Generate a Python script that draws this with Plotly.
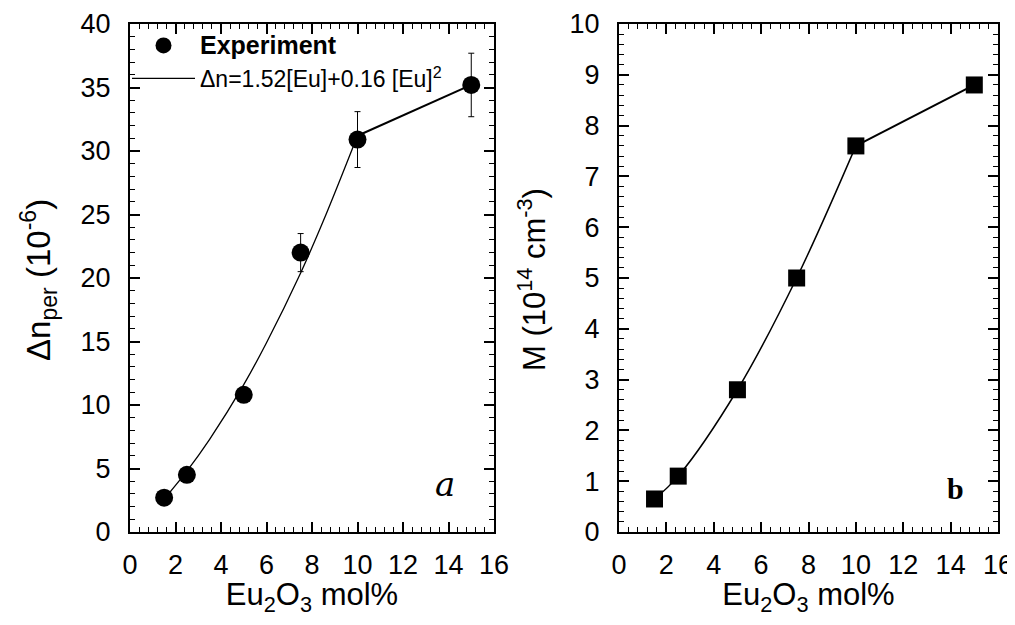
import plotly.graph_objects as go

# ---------------- data ----------------
eu_mol = [1.5, 2.5, 5.0, 7.5, 10.0, 15.0]

# panel a: experimental birefringence (1e-6) with error bars
dn_exp = [2.7, 4.5, 10.8, 22.0, 30.9, 35.2]
dn_err = [0.3, 0.4, 0.6, 1.5, 2.2, 2.5]

# panel a: fitted curve as drawn
fit_x = [1.5, 2.5, 3.5, 5.0, 6.0, 7.5, 8.5, 10.0]
fit_y = [2.6, 4.8, 7.3, 11.6, 14.9, 20.4, 24.5, 31.2]
seg_x = [10.0, 15.0]
seg_y = [31.2, 35.2]

# panel b: M (1e14 cm^-3)
m_vals = [0.65, 1.1, 2.8, 5.0, 7.6, 8.8]

x_ticks = [0, 2, 4, 6, 8, 10, 12, 14, 16]

FONT = "Liberation Sans"
BLACK = "black"

# page offset of the figure (body margin) and figure size
OFF = 8
W, H = 1015 - OFF, 625 - 2 * OFF


def fx(px):
    return (px - OFF) / W


def fy(py):
    return 1 - (py - OFF) / H


fig = go.Figure()

# ---- panel a ----
fig.add_trace(go.Scatter(
    x=eu_mol, y=dn_exp, mode="markers",
    name="<span style='font-size:25px'><b>Experiment</b></span>",
    marker=dict(symbol="circle", size=18, color=BLACK),
    error_y=dict(type="data", array=dn_err, color=BLACK, thickness=1, width=3),
    xaxis="x", yaxis="y", showlegend=True,
))
fig.add_trace(go.Scatter(
    x=fit_x, y=fit_y, mode="lines", name="Δn=1.52[Eu]+0.16 [Eu]<sup>2</sup>",
    line=dict(color=BLACK, width=1.3, shape="spline"),
    xaxis="x", yaxis="y", showlegend=True,
))
fig.add_trace(go.Scatter(
    x=seg_x, y=seg_y, mode="lines", line=dict(color=BLACK, width=2),
    xaxis="x", yaxis="y", showlegend=False,
))

# ---- panel b ----
fig.add_trace(go.Scatter(
    x=eu_mol[:5], y=m_vals[:5], mode="lines",
    line=dict(color=BLACK, width=1.5, shape="spline"),
    xaxis="x2", yaxis="y2", showlegend=False,
))
fig.add_trace(go.Scatter(
    x=eu_mol[4:], y=m_vals[4:], mode="lines",
    line=dict(color=BLACK, width=2),
    xaxis="x2", yaxis="y2", showlegend=False,
))
fig.add_trace(go.Scatter(
    x=eu_mol, y=m_vals, mode="markers",
    marker=dict(symbol="square", size=17, color=BLACK),
    xaxis="x2", yaxis="y2", showlegend=False,
))

tickfont = dict(family=FONT, size=27, color=BLACK)
common = dict(
    showline=True, linecolor=BLACK, linewidth=2, mirror="allticks",
    ticks="inside", ticklen=10, tickwidth=1.5, tickcolor=BLACK,
    showgrid=False, zeroline=False, tickfont=tickfont, automargin=False,
)
xcommon = dict(common, range=[0, 16], tickvals=x_ticks,
               minor=dict(dtick=0.4, ticks="inside", ticklen=5, tickwidth=1, tickcolor=BLACK),
               ticklabelstandoff=8,
               title=dict(text="Eu<sub>2</sub>O<sub>3</sub> mol%",
                          font=dict(family=FONT, size=31, color=BLACK), standoff=20))

ydom = [fy(532), fy(24)]
ann = dict(xref="paper", yref="paper", showarrow=False, xanchor="center", yanchor="middle")
fig.update_layout(
    width=W, height=H,
    margin=dict(l=0, r=0, t=0, b=0),
    paper_bgcolor="white", plot_bgcolor="white",
    font=dict(family=FONT, color=BLACK),
    xaxis=dict(xcommon, domain=[fx(130), fx(494)], anchor="y"),
    yaxis=dict(common, domain=ydom, range=[0, 40], dtick=5, anchor="x",
               minor=dict(dtick=1, ticks="inside", ticklen=5, tickwidth=1, tickcolor=BLACK),
               ticklabelstandoff=12),
    xaxis2=dict(xcommon, domain=[fx(619), fx(998)], anchor="y2"),
    yaxis2=dict(common, domain=ydom, range=[0, 10], dtick=1, anchor="x2",
                minor=dict(dtick=0.2, ticks="inside", ticklen=5, tickwidth=1, tickcolor=BLACK),
                ticklabelstandoff=12),
    legend=dict(x=fx(127), y=fy(24), xanchor="left", yanchor="top",
                bgcolor="rgba(0,0,0,0)", itemwidth=63,
                font=dict(family=FONT, size=23, color=BLACK)),
    annotations=[
        dict(ann, text="Δn<sub>per</sub> (10<sup>-6</sup>)", x=fx(38), y=fy(280),
             textangle=-90, font=dict(family=FONT, size=33, color=BLACK)),
        dict(ann, text="M (10<sup>14</sup> cm<sup>-3</sup>)", x=fx(532), y=fy(280),
             textangle=-90, font=dict(family=FONT, size=31, color=BLACK)),
        dict(ann, text="<i>a</i>", x=fx(445), y=fy(484),
             font=dict(family="DejaVu Serif", size=34, color=BLACK)),
        dict(ann, text="<b>b</b>", x=fx(955), y=fy(488),
             font=dict(family="Liberation Serif", size=30, color=BLACK)),
    ],
)

fig.write_html("out.html")
